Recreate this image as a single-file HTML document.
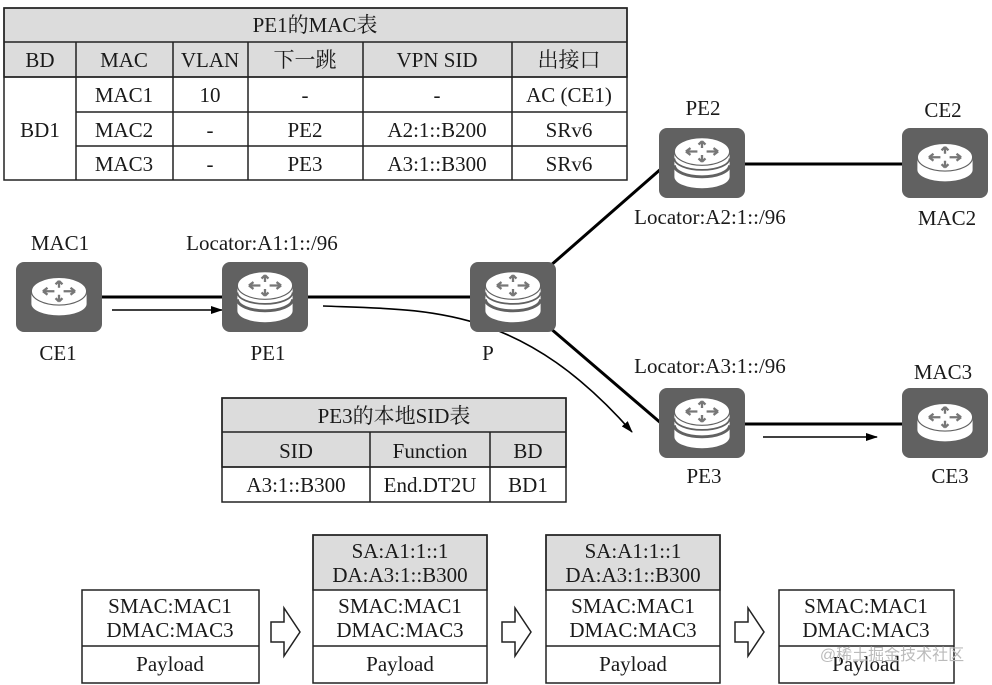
<!DOCTYPE html>
<html><head><meta charset="utf-8"><style>
html,body{margin:0;padding:0;background:#fff;}
svg{display:block;}
text{font-family:"Liberation Serif","Noto Serif CJK SC","Noto Sans CJK SC",serif;font-size:21px;fill:#1a1a1a;text-anchor:middle;}
</style></head><body>
<svg width="992" height="685" viewBox="0 0 992 685" xmlns="http://www.w3.org/2000/svg">
<defs>
<g id="pe">
<rect x="-43" y="-35" width="86" height="70" rx="8" fill="#616161"/>
<g transform="scale(1.15)">
<path d="M-24,-8 L-24,12 A24,10 0 0 0 24,12 L24,-8 Z" fill="#fff"/>
<path d="M-24,2 A24,10 0 0 0 24,2" fill="none" stroke="#616161" stroke-width="2.5"/>
<path d="M-24,-4 A24,10 0 0 0 24,-4" fill="none" stroke="#616161" stroke-width="1.5"/>
<ellipse cx="0" cy="-10" rx="24" ry="12" fill="#fff" stroke="#616161" stroke-width="1"/>
<path d="M-14,-10 h10 M-14,-10 l4,-3 M-14,-10 l4,3 M14,-10 h-10 M14,-10 l-4,-3 M14,-10 l-4,3 M0,-19 v6 M0,-19 l-3,3 M0,-19 l3,3 M0,-1 v-6 M0,-1 l-3,-3 M0,-1 l3,-3" stroke="#777" stroke-width="2" fill="none"/>
</g>
</g>
<g id="ce">
<rect x="-43" y="-35" width="86" height="70" rx="8" fill="#616161"/>
<g transform="scale(1.15)">
<path d="M-24,-4 L-24,6 A24,10 0 0 0 24,6 L24,-4 Z" fill="#fff"/>
<ellipse cx="0" cy="-5" rx="24" ry="12" fill="#fff" stroke="#616161" stroke-width="1"/>
<path d="M-14,-5 h10 M-14,-5 l4,-3 M-14,-5 l4,3 M14,-5 h-10 M14,-5 l-4,-3 M14,-5 l-4,3 M0,-14 v6 M0,-14 l-3,3 M0,-14 l3,3 M0,4 v-6 M0,4 l-3,-3 M0,4 l3,-3" stroke="#777" stroke-width="2" fill="none"/>
</g>
</g>
<marker id="ar" markerWidth="12" markerHeight="8" refX="11" refY="4" orient="auto" markerUnits="userSpaceOnUse"><path d="M0,0 L12,4 L0,8 Z" fill="#000"/></marker>
</defs>

<g stroke="#222" stroke-width="1.5">
<rect x="4" y="8" width="623" height="69" fill="#dcdcdc"/>
<rect x="4" y="8" width="623" height="172" fill="none"/>
<line x1="4" y1="42" x2="627" y2="42"/>
<line x1="4" y1="77" x2="627" y2="77"/>
<line x1="76" y1="112" x2="627" y2="112"/>
<line x1="76" y1="146" x2="627" y2="146"/>
<line x1="76" y1="42" x2="76" y2="180"/>
<line x1="173" y1="42" x2="173" y2="180"/>
<line x1="248" y1="42" x2="248" y2="180"/>
<line x1="363" y1="42" x2="363" y2="180"/>
<line x1="512" y1="42" x2="512" y2="180"/>
</g>
<text x="315" y="32">PE1的MAC表</text>
<text x="40" y="67">BD</text><text x="124" y="67">MAC</text><text x="210" y="67">VLAN</text><text x="305" y="67">下一跳</text><text x="437" y="67">VPN SID</text><text x="569" y="67">出接口</text>
<text x="40" y="137">BD1</text>
<text x="124" y="102">MAC1</text><text x="210" y="102">10</text><text x="305" y="102">-</text><text x="437" y="102">-</text><text x="569" y="102">AC (CE1)</text>
<text x="124" y="137">MAC2</text><text x="210" y="137">-</text><text x="305" y="137">PE2</text><text x="437" y="137">A2:1::B200</text><text x="569" y="137">SRv6</text>
<text x="124" y="171">MAC3</text><text x="210" y="171">-</text><text x="305" y="171">PE3</text><text x="437" y="171">A3:1::B300</text><text x="569" y="171">SRv6</text>

<g stroke="#000" stroke-width="3">
<line x1="100" y1="297" x2="224" y2="297"/>
<line x1="305" y1="297" x2="472" y2="297"/>
<line x1="550" y1="266" x2="662" y2="168"/>
<line x1="550" y1="328" x2="662" y2="424"/>
<line x1="743" y1="164" x2="904" y2="164"/>
<line x1="743" y1="424" x2="904" y2="424"/>
</g>
<g stroke="#000" stroke-width="1.6" fill="none" marker-end="url(#ar)">
<line x1="112" y1="310" x2="222" y2="310"/>
<path d="M323,306 C430,310 520,305 632,432"/>
<line x1="763" y1="437" x2="877" y2="437"/>
</g>

<use href="#ce" x="59" y="297"/>
<use href="#pe" x="265" y="297"/>
<use href="#pe" x="513" y="297"/>
<use href="#pe" x="702" y="163"/>
<use href="#ce" x="945" y="163"/>
<use href="#pe" x="702" y="423"/>
<use href="#ce" x="945" y="423"/>

<text x="60" y="250">MAC1</text>
<text x="58" y="360">CE1</text>
<text x="262" y="250">Locator:A1:1::/96</text>
<text x="268" y="360">PE1</text>
<text x="488" y="360">P</text>
<text x="703" y="115">PE2</text>
<text x="710" y="224">Locator:A2:1::/96</text>
<text x="943" y="117">CE2</text>
<text x="947" y="225">MAC2</text>
<text x="710" y="373">Locator:A3:1::/96</text>
<text x="943" y="379">MAC3</text>
<text x="704" y="483">PE3</text>
<text x="950" y="483">CE3</text>

<g stroke="#222" stroke-width="1.5">
<rect x="222" y="398" width="344" height="69" fill="#dcdcdc"/>
<rect x="222" y="398" width="344" height="104" fill="none"/>
<line x1="222" y1="432" x2="566" y2="432"/>
<line x1="222" y1="467" x2="566" y2="467"/>
<line x1="370" y1="432" x2="370" y2="502"/>
<line x1="490" y1="432" x2="490" y2="502"/>
</g>
<text x="394" y="423">PE3的本地SID表</text>
<text x="296" y="458">SID</text><text x="430" y="458">Function</text><text x="528" y="458">BD</text>
<text x="296" y="492">A3:1::B300</text><text x="430" y="492">End.DT2U</text><text x="528" y="492">BD1</text>

<g stroke="#222" stroke-width="1.5">
<rect x="82" y="590" width="177" height="93" fill="#fff"/>
<line x1="82" y1="646" x2="259" y2="646"/>
<rect x="313" y="535" width="174" height="55" fill="#dcdcdc"/>
<rect x="313" y="535" width="174" height="148" fill="none"/>
<line x1="313" y1="646" x2="487" y2="646"/>
<rect x="546" y="535" width="174" height="55" fill="#dcdcdc"/>
<rect x="546" y="535" width="174" height="148" fill="none"/>
<line x1="546" y1="646" x2="720" y2="646"/>
<rect x="779" y="590" width="175" height="93" fill="#fff"/>
<line x1="779" y1="646" x2="954" y2="646"/>
</g>
<g fill="#fff" stroke="#222" stroke-width="1.5">
<path d="M271,622 h13 v-14 l16,24 l-16,24 v-14 h-13 Z"/>
<path d="M502,622 h13 v-14 l16,24 l-16,24 v-14 h-13 Z"/>
<path d="M735,622 h13 v-14 l16,24 l-16,24 v-14 h-13 Z"/>
</g>
<text x="170" y="613">SMAC:MAC1</text><text x="170" y="637">DMAC:MAC3</text><text x="170" y="671">Payload</text>
<text x="400" y="558">SA:A1:1::1</text><text x="400" y="582">DA:A3:1::B300</text>
<text x="400" y="613">SMAC:MAC1</text><text x="400" y="637">DMAC:MAC3</text><text x="400" y="671">Payload</text>
<text x="633" y="558">SA:A1:1::1</text><text x="633" y="582">DA:A3:1::B300</text>
<text x="633" y="613">SMAC:MAC1</text><text x="633" y="637">DMAC:MAC3</text><text x="633" y="671">Payload</text>
<text x="866" y="613">SMAC:MAC1</text><text x="866" y="637">DMAC:MAC3</text><text x="866" y="671">Payload</text>
<text x="892" y="660" style="font-size:16px;fill:#bbb;font-family:'Liberation Sans','Noto Sans CJK SC',sans-serif">@稀土掘金技术社区</text>
</svg>
</body></html>
